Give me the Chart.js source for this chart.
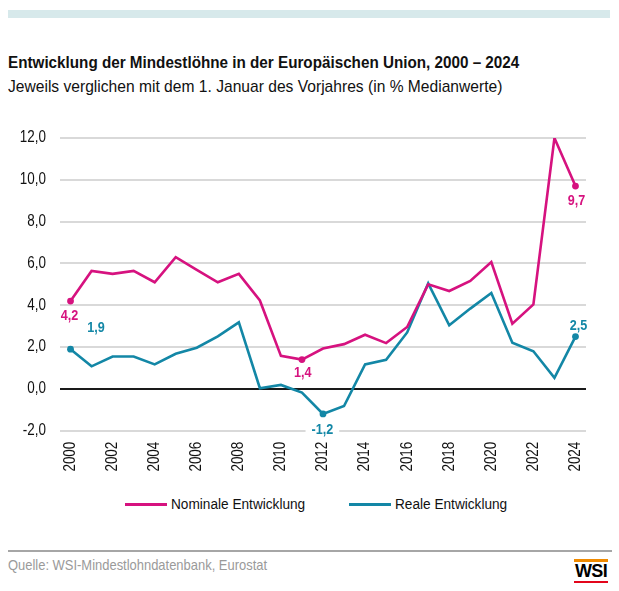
<!DOCTYPE html>
<html>
<head>
<meta charset="utf-8">
<script src="https://cdn.jsdelivr.net/npm/chart.js@4/dist/chart.umd.min.js"></script>
<style>
  html, body { margin: 0; padding: 0; background: #fff; }
  body { width: 619px; height: 591px; position: relative; overflow: hidden;
         font-family: "Liberation Sans Narrow", "Arial Narrow", "Liberation Sans", sans-serif; }
  .topbar { position: absolute; left: 8px; top: 10px; width: 602px; height: 8px; background: #d7e9eb; }
  .cond { transform-origin: 0 50%; }
  .title { position: absolute; left: 8px; top: 54px; font-size: 17px; font-weight: bold; color: #111; line-height: 17px; white-space: nowrap; transform: scaleX(0.896); }
  .subtitle { position: absolute; left: 8px; top: 78px; font-size: 17px; color: #111; line-height: 17px; white-space: nowrap; transform: scaleX(0.918); }
  #wrap { position: absolute; left: 0; top: 100px; width: 619px; height: 390px; }
  .leg { position: absolute; top: 495px; height: 18px; line-height: 18px; font-size: 15.5px; color: #111; white-space: nowrap; transform: scaleX(0.88); }
  .legline { position: absolute; height: 3px; top: 503px; }
  .footline { position: absolute; left: 8px; top: 550px; width: 604px; height: 2px; background: #a6a6a6; }
  .source { position: absolute; left: 8px; top: 557px; font-size: 15px; line-height: 16px; color: #9a9a9a; white-space: nowrap; transform: scaleX(0.863); }
  .wsi { position: absolute; left: 574px; top: 559px; width: 34px; }
  .wsi .o { height: 2.5px; background: #ef8a00; }
  .wsi .t { font-family: "Liberation Sans", Arial, sans-serif; font-weight: bold; font-size: 18px; line-height: 17px; color: #000; text-align: center; letter-spacing: -0.6px; margin-top: 1px; }
  .wsi .r { height: 2.5px; background: #e3051b; margin-top: 1px; }
</style>
</head>
<body>
<div class="topbar"></div>
<div class="title cond">Entwicklung der Mindestlöhne in der Europäischen Union, 2000 – 2024</div>
<div class="subtitle cond">Jeweils verglichen mit dem 1. Januar des Vorjahres (in % Medianwerte)</div>
<div id="wrap"><canvas id="c"></canvas></div>
<div class="legline" style="left:125px;width:42px;background:#d6127f"></div>
<div class="leg cond" style="left:171px">Nominale Entwicklung</div>
<div class="legline" style="left:349px;width:42px;background:#1387a6"></div>
<div class="leg cond" style="left:395px">Reale Entwicklung</div>
<div class="footline"></div>
<div class="source cond">Quelle: WSI-Mindestlohndatenbank, Eurostat</div>
<div class="wsi"><div class="o"></div><div class="t">WSI</div><div class="r"></div></div>
<script>
const years = ['2000','2001','2002','2003','2004','2005','2006','2007','2008','2009','2010','2011','2012',
               '2013','2014','2015','2016','2017','2018','2019','2020','2021','2022','2023','2024'];
const nominal = [4.2, 5.64, 5.5, 5.64, 5.1, 6.3, 5.69, 5.1, 5.5, 4.23, 1.58, 1.4, 1.93,
                 2.14, 2.59, 2.19, 2.96, 5.0, 4.68, 5.16, 6.07, 3.12, 4.04, 12.0, 9.7];
const real = [1.9, 1.08, 1.55, 1.55, 1.17, 1.68, 1.97, 2.51, 3.18, 0.03, 0.19, -0.18, -1.2,
              -0.82, 1.17, 1.39, 2.7, 5.05, 3.04, 3.84, 4.59, 2.21, 1.8, 0.53, 2.5];
const yTicks = [-2, 0, 2, 4, 6, 8, 10, 12];
const seriesNames = ['Nominale Entwicklung', 'Reale Entwicklung'];
const nominalLabelled = [0, 11, 24];
const realLabelled = [0, 12, 24];

const PINK = '#d6127f', BLUE = '#1387a6';
const FONT = '"Liberation Sans Narrow", "Arial Narrow", "Liberation Sans", sans-serif';
const fmt = v => v.toFixed(1).replace('.', ',');
const TEXT_SCALE = 0.84;

// narrow the canvas text horizontally (condensed look)
const canvas = document.getElementById('c');
const cctx = canvas.getContext('2d');
const origFill = cctx.fillText.bind(cctx);
cctx.fillText = function (t, x, y) {
  this.save();
  this.translate(x, y);
  this.scale(TEXT_SCALE, 1);
  origFill(t, 0, 0);
  this.restore();
};

// label placement (style only): dataset index, point index, offsets
const labelStyle = [
  {ds: 0, i: 0, dx: -1, dy: 14.5},
  {ds: 1, i: 0, dx: 25.5, dy: -21},
  {ds: 0, i: 11, dx: 0.7, dy: 13.4},
  {ds: 1, i: 12, dx: -0.6, dy: 16, bg: true},
  {ds: 0, i: 24, dx: 1, dy: 15},
  {ds: 1, i: 24, dx: 3, dy: -11}
];

const labelPlugin = {
  id: 'pointLabels',
  afterDatasetsDraw(chart) {
    const ctx = chart.ctx;
    const xs = chart.scales.x, ys = chart.scales.y;
    ctx.save();
    ctx.font = 'bold 15px ' + FONT;
    ctx.textAlign = 'center';
    ctx.textBaseline = 'middle';
    labelStyle.forEach(l => {
      const data = chart.data.datasets[l.ds].data;
      const v = data[l.i];
      const px = xs.getPixelForValue(l.i) + l.dx;
      const py = ys.getPixelForValue(v) + l.dy;
      const txt = fmt(v);
      if (l.bg) {
        const w = ctx.measureText(txt).width * TEXT_SCALE;
        ctx.fillStyle = '#fff';
        ctx.fillRect(px - w / 2 - 6, py - 8, w + 12, 16);
      }
      ctx.fillStyle = chart.data.datasets[l.ds].borderColor;
      ctx.fillText(txt, px, py);
    });
    ctx.restore();
  }
};

new Chart(canvas, {
  type: 'line',
  data: {
    labels: years,
    datasets: [
      { label: seriesNames[0], data: nominal, borderColor: PINK, backgroundColor: PINK, borderWidth: 2.6,
        tension: 0, pointRadius: c => nominalLabelled.includes(c.dataIndex) ? 3.4 : 0, pointHoverRadius: 0,
        pointBorderWidth: 0, pointBackgroundColor: PINK, borderJoinStyle: 'miter' },
      { label: seriesNames[1], data: real, borderColor: BLUE, backgroundColor: BLUE, borderWidth: 2.6,
        tension: 0, pointRadius: c => realLabelled.includes(c.dataIndex) ? 3.4 : 0, pointHoverRadius: 0,
        pointBorderWidth: 0, pointBackgroundColor: BLUE, borderJoinStyle: 'miter' }
    ]
  },
  options: {
    responsive: true, maintainAspectRatio: false, animation: false,
    layout: { padding: { top: 38, right: 33, left: 0, bottom: 0 } },
    plugins: { legend: { display: false }, tooltip: { enabled: false }, title: { display: false } },
    scales: {
      x: {
        offset: true,
        grid: { display: false, drawTicks: false },
        border: { display: false },
        afterFit: s => { s.height = 59.3; },
        ticks: {
          autoSkip: false, minRotation: 90, maxRotation: 90, padding: 11,
          color: '#111', font: { family: FONT, size: 16 },
          callback: (v, i) => (i % 2 === 0 ? years[i] : '')
        }
      },
      y: {
        min: yTicks[0], max: yTicks[yTicks.length - 1],
        afterBuildTicks: s => { s.ticks = yTicks.map(v => ({ value: v })); },
        afterFit: s => { s.width = 60; },
        grid: {
          drawTicks: false,
          color: c => (c.tick && c.tick.value === 0 ? '#1a1a1a' : '#d9d9d9'),
          lineWidth: 2
        },
        border: { display: false },
        ticks: { padding: 14, color: '#111', font: { family: FONT, size: 16 }, callback: v => fmt(v) }
      }
    }
  },
  plugins: [labelPlugin]
});
</script>
</body>
</html>
